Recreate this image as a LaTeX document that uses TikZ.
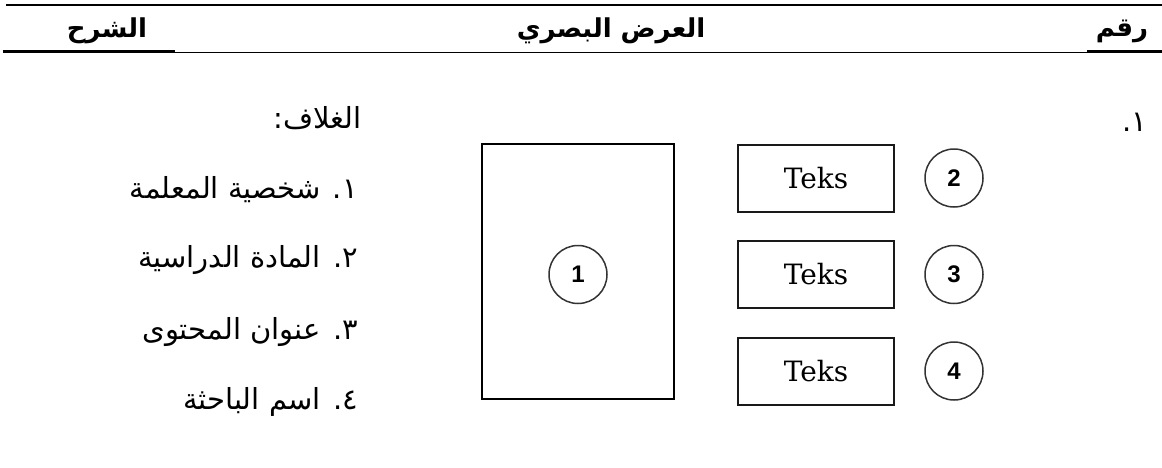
\documentclass[tikz,border=0pt]{standalone}
\usepackage{fontspec}
\TeXXeTstate=1
\newfontfamily\arabicfont[Script=Arabic]{DejaVu Sans}
\newfontfamily\tekfont{DejaVu Serif}
\newfontfamily\numfont{Liberation Sans}
\tikzset{
  hdr/.style={font=\arabicfont\bfseries\fontsize{26}{30}\selectfont, inner sep=0pt},
  body/.style={font=\arabicfont\fontsize{29}{34}\selectfont, inner sep=0pt, anchor=east},
  tekbox/.style={draw=black!90, line width=2pt, minimum width=156pt, minimum height=67pt, inner sep=0pt, font=\tekfont\fontsize{28}{30}\selectfont},
  numcirc/.style={circle, draw=black!80, line width=1.5pt, minimum size=58pt, inner sep=0pt, font=\numfont\bfseries\fontsize{24}{26}\selectfont},
}
\begin{document}
\begin{tikzpicture}[x=1pt,y=-1pt]
\useasboundingbox (0,0) rectangle (1162,467);
% rules
\coordinate (tl) at (6,5);
\coordinate (tr) at (1162,5);
\draw[line width=2.4pt] (tl) -- (tr);
\coordinate (bl0) at (3,51.5);
\coordinate (bl1) at (175,51.5);
\coordinate (bm0) at (175,52);
\coordinate (bm1) at (1087,52);
\coordinate (br1) at (1162,51.5);
\coordinate (br0) at (1087,51.5);
\draw[line width=2.8pt] (bl0) -- (bl1);
\draw[line width=1pt] (bm0) -- (bm1);
\draw[line width=2.8pt] (br0) -- (br1);
% headers
\node[hdr] (h1) at (107,31) {\beginR الشرح\endR};
\node[hdr] (h2) at (611,31) {\beginR العرض البصري\endR};
\node[hdr] (h3) at (1122,31) {\beginR رقم\endR};
% number column
\node[body] (n1) at (1147,122) {\beginR ١.\endR};
% description column
\node[body] (d0) at (362,118) {\beginR الغلاف:\endR};
\node[body] (d1) at (358,190) {\beginR ١. شخصية المعلمة\endR};
\node[body] (d2) at (358,260) {\beginR ٢. المادة الدراسية\endR};
\node[body] (d3) at (358,332) {\beginR ٣. عنوان المحتوى\endR};
\node[body] (d4) at (358,402) {\beginR ٤. اسم الباحثة\endR};
% visual
\node[draw, line width=2.8pt, minimum width=192pt, minimum height=255pt, inner sep=0pt] (cover) at (578,271.5) {};
\node[numcirc] (c1) at (578,274.5) {1};
\node[tekbox] (t1) at (816,178) {Teks};
\node[tekbox] (t2) at (816,274.5) {Teks};
\node[tekbox] (t3) at (816,371) {Teks};
\node[numcirc] (c2) at (954,178) {2};
\node[numcirc] (c3) at (954,274.5) {3};
\node[numcirc] (c4) at (954,371) {4};
\end{tikzpicture}
\end{document}
